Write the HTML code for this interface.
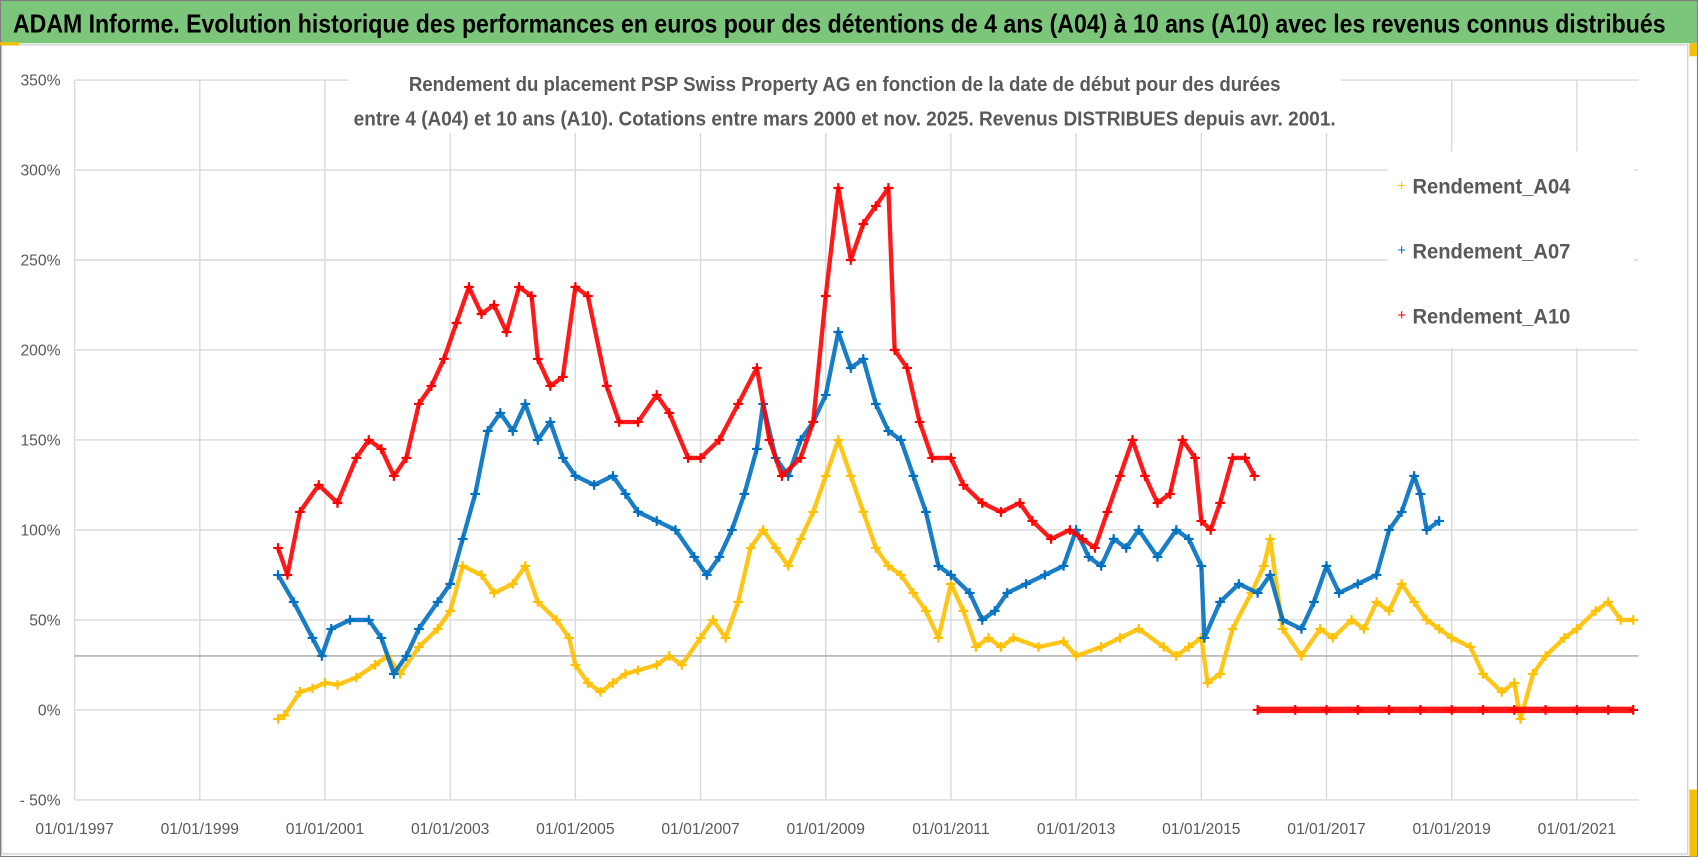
<!DOCTYPE html>
<html><head><meta charset="utf-8">
<style>
html,body{margin:0;padding:0;background:#fff;}
svg{display:block;}
text{font-family:"Liberation Sans Narrow","Liberation Sans",sans-serif;}
</style></head>
<body>
<svg id="chart" width="1698" height="857" viewBox="0 0 1570 792.4" preserveAspectRatio="none" xmlns="http://www.w3.org/2000/svg">
  <rect x="0" y="0" width="1570" height="792.4" fill="#fff"/>
  <rect x="0" y="0" width="1570" height="40" fill="#7cc67c"/>
  <text x="12" y="30" font-size="24" font-weight="bold" fill="#000" textLength="1528" lengthAdjust="spacingAndGlyphs">ADAM Informe. Evolution historique des performances en euros pour des détentions de 4 ans (A04) à 10 ans (A10) avec les revenus connus distribués</text>
  <rect x="1.5" y="41.5" width="1559" height="748" fill="#fff" stroke="#d0d0d0" stroke-width="1.2"/>
  <rect x="0.5" y="0.5" width="1569" height="791.4" fill="none" stroke="#7f7f7f" stroke-width="1"/>
  <rect x="1562" y="40" width="7" height="12" fill="#f5c000"/>
  <rect x="1562" y="730" width="7" height="62" fill="#f5c000"/>
  <rect x="0" y="39" width="18" height="3" fill="#f5c000"/>
  <g id="grid"></g>
  <g id="axes"></g>
  <g id="series"></g>
  <rect x="322" y="60" width="918" height="63" fill="#fff"/>
  <text x="781" y="84" font-size="19" font-weight="bold" fill="#595959" text-anchor="middle" textLength="806" lengthAdjust="spacingAndGlyphs">Rendement du placement PSP Swiss Property AG en fonction de la date de début pour des durées</text>
  <text x="781" y="116" font-size="19" font-weight="bold" fill="#595959" text-anchor="middle" textLength="908" lengthAdjust="spacingAndGlyphs">entre 4 (A04) et 10 ans (A10). Cotations entre mars 2000 et nov. 2025. Revenus DISTRIBUES depuis avr. 2001.</text>
  <rect x="1283" y="140" width="228" height="182" fill="#fff"/>
  <g>
    <text x="1296" y="176" font-size="14" fill="#ffc000" text-anchor="middle">+</text>
    <text x="1306" y="179" font-size="20" font-weight="bold" fill="#595959" textLength="146" lengthAdjust="spacingAndGlyphs">Rendement_A04</text>
  </g>
  <g>
    <text x="1296" y="236" font-size="14" fill="#0070c0" text-anchor="middle">+</text>
    <text x="1306" y="239" font-size="20" font-weight="bold" fill="#595959" textLength="146" lengthAdjust="spacingAndGlyphs">Rendement_A07</text>
  </g>
  <g>
    <text x="1296" y="296" font-size="14" fill="#ff0000" text-anchor="middle">+</text>
    <text x="1306" y="299" font-size="20" font-weight="bold" fill="#595959" textLength="146" lengthAdjust="spacingAndGlyphs">Rendement_A10</text>
  </g>
</svg>
<script>
const yTicks = [350,300,250,200,150,100,50,0,-50];
const yTickLabels = ["350%","300%","250%","200%","150%","100%","50%","0%","- 50%"];
const xTicks = [1997,1999,2001,2003,2005,2007,2009,2011,2013,2015,2017,2019,2021];
const xTickLabels = ["01/01/1997","01/01/1999","01/01/2001","01/01/2003","01/01/2005","01/01/2007","01/01/2009","01/01/2011","01/01/2013","01/01/2015","01/01/2017","01/01/2019","01/01/2021"];
const refLineValue = 30;

const a04Dates = [2000.25,2000.35,2000.6,2000.8,2001.0,2001.2,2001.5,2001.8,2002.0,2002.2,2002.5,2002.8,2003.0,2003.2,2003.5,2003.7,2004.0,2004.2,2004.4,2004.7,2004.9,2005.0,2005.2,2005.4,2005.6,2005.8,2006.0,2006.3,2006.5,2006.7,2007.0,2007.2,2007.4,2007.6,2007.8,2008.0,2008.2,2008.4,2008.6,2008.8,2009.0,2009.2,2009.4,2009.6,2009.8,2010.0,2010.2,2010.4,2010.6,2010.8,2011.0,2011.2,2011.4,2011.6,2011.8,2012.0,2012.4,2012.8,2013.0,2013.4,2013.7,2014.0,2014.4,2014.6,2014.8,2015.0,2015.1,2015.3,2015.5,2015.8,2016.0,2016.1,2016.3,2016.6,2016.9,2017.1,2017.4,2017.6,2017.8,2018.0,2018.2,2018.4,2018.6,2018.8,2019.0,2019.3,2019.5,2019.8,2020.0,2020.1,2020.3,2020.5,2020.8,2021.0,2021.3,2021.5,2021.7,2021.9];
const a04Values = [-5,-3,10,12,15,14,18,25,30,20,35,45,55,80,75,65,70,80,60,50,40,25,15,10,15,20,22,25,30,25,40,50,40,60,90,100,90,80,95,110,130,150,130,110,90,80,75,65,55,40,70,55,35,40,35,40,35,38,30,35,40,45,35,30,35,40,15,20,45,65,80,95,45,30,45,40,50,45,60,55,70,60,50,45,40,35,20,10,15,-5,20,30,40,45,55,60,50,50];

const a07Dates = [2000.25,2000.5,2000.8,2000.95,2001.1,2001.4,2001.7,2001.9,2002.1,2002.3,2002.5,2002.8,2003.0,2003.2,2003.4,2003.6,2003.8,2004.0,2004.2,2004.4,2004.6,2004.8,2005.0,2005.3,2005.6,2005.8,2006.0,2006.3,2006.6,2006.9,2007.1,2007.3,2007.5,2007.7,2007.9,2008.0,2008.2,2008.4,2008.6,2008.8,2009.0,2009.2,2009.4,2009.6,2009.8,2010.0,2010.2,2010.4,2010.6,2010.8,2011.0,2011.3,2011.5,2011.7,2011.9,2012.2,2012.5,2012.8,2013.0,2013.2,2013.4,2013.6,2013.8,2014.0,2014.3,2014.6,2014.8,2015.0,2015.05,2015.3,2015.6,2015.9,2016.1,2016.3,2016.6,2016.8,2017.0,2017.2,2017.5,2017.8,2018.0,2018.2,2018.4,2018.5,2018.6,2018.8];
const a07Values = [75,60,40,30,45,50,50,40,20,30,45,60,70,95,120,155,165,155,170,150,160,140,130,125,130,120,110,105,100,85,75,85,100,120,145,170,140,130,150,160,175,210,190,195,170,155,150,130,110,80,75,65,50,55,65,70,75,80,100,85,80,95,90,100,85,100,95,80,40,60,70,65,75,50,45,60,80,65,70,75,100,110,130,120,100,105];

const a10Dates = [2000.25,2000.4,2000.6,2000.9,2001.2,2001.5,2001.7,2001.9,2002.1,2002.3,2002.5,2002.7,2002.9,2003.1,2003.3,2003.5,2003.7,2003.9,2004.1,2004.3,2004.4,2004.6,2004.8,2005.0,2005.2,2005.5,2005.7,2006.0,2006.3,2006.5,2006.8,2007.0,2007.3,2007.6,2007.9,2008.1,2008.3,2008.6,2008.8,2009.0,2009.2,2009.4,2009.6,2009.8,2010.0,2010.1,2010.3,2010.5,2010.7,2011.0,2011.2,2011.5,2011.8,2012.1,2012.3,2012.6,2012.9,2013.1,2013.3,2013.5,2013.7,2013.9,2014.1,2014.3,2014.5,2014.7,2014.9,2015.0,2015.15,2015.3,2015.5,2015.7,2015.85];
const a10Values = [90,75,110,125,115,140,150,145,130,140,170,180,195,215,235,220,225,210,235,230,195,180,185,235,230,180,160,160,175,165,140,140,150,170,190,150,130,140,160,230,290,250,270,280,290,200,190,160,140,140,125,115,110,115,105,95,100,95,90,110,130,150,130,115,120,150,140,105,100,115,140,140,130];
const a10ZeroDates = [2015.9,2016.5,2017.0,2017.5,2018.0,2018.5,2019.0,2019.5,2020.0,2020.5,2021.0,2021.5,2021.9];
const a10ZeroValues = [0,0,0,0,0,0,0,0,0,0,0,0,0];

const NS = "http://www.w3.org/2000/svg";
const X0 = 69, XSTEP = 57.875, Y0 = 656.4, YSCALE = 83.2/50;
function xs(d){ return X0 + (d - 1997) * XSTEP; }
function ys(v){ return Y0 - v * YSCALE; }
function mk(tag, attrs, parent){ const e = document.createElementNS(NS, tag); for (const k in attrs) e.setAttribute(k, attrs[k]); parent.appendChild(e); return e; }

const grid = document.getElementById('grid');
const axes = document.getElementById('axes');
const ser = document.getElementById('series');

yTicks.forEach((t, i) => {
  const l = mk('line', {x1: X0, x2: 1515, y1: ys(t), y2: ys(t), stroke: '#d9d9d9', 'stroke-width': 1.3}, grid);
  
  
  const tx = mk('text', {x: 56, y: ys(t) + 5, 'font-size': 14.5, fill: '#595959', 'text-anchor': 'end'}, axes);
  tx.textContent = yTickLabels[i];
  
  
});
xTicks.forEach((t, i) => {
  const l = mk('line', {x1: xs(t), x2: xs(t), y1: ys(350), y2: ys(-50), stroke: '#d9d9d9', 'stroke-width': 1.3}, grid);
  
  
  const tx = mk('text', {x: xs(t), y: 771, 'font-size': 14.5, fill: '#595959', 'text-anchor': 'middle'}, axes);
  tx.textContent = xTickLabels[i];
  
  
});
const ref = mk('line', {x1: X0, x2: 1515, y1: ys(refLineValue), y2: ys(refLineValue), stroke: '#a6a6a6', 'stroke-width': 1.3}, grid);



function drawSeries(dates, vals, color, name, width){
  const g = mk('g', {}, ser);
  
  
  const pts = dates.map((d, i) => xs(d).toFixed(1) + ',' + ys(vals[i]).toFixed(1)).join(' ');
  mk('polyline', {points: pts, fill: 'none', stroke: color, 'stroke-width': width, 'stroke-linejoin': 'round', opacity: 0.9}, g);
  dates.forEach((d, i) => {
    const x = xs(d), y = ys(vals[i]);
    const p = mk('path', {d: `M${x-4.5},${y}H${x+4.5}M${x},${y-4.5}V${y+4.5}`, stroke: color, 'stroke-width': 2}, g);
    
    
  });
}
drawSeries(a04Dates, a04Values, '#ffc000', 'series-a04', 4);
drawSeries(a07Dates, a07Values, '#0070c0', 'series-a07', 4);
drawSeries(a10Dates, a10Values, '#ff0000', 'series-a10', 4);
drawSeries(a10ZeroDates, a10ZeroValues, '#ff0000', 'series-a10-zero', 6);
</script>
</body></html>
